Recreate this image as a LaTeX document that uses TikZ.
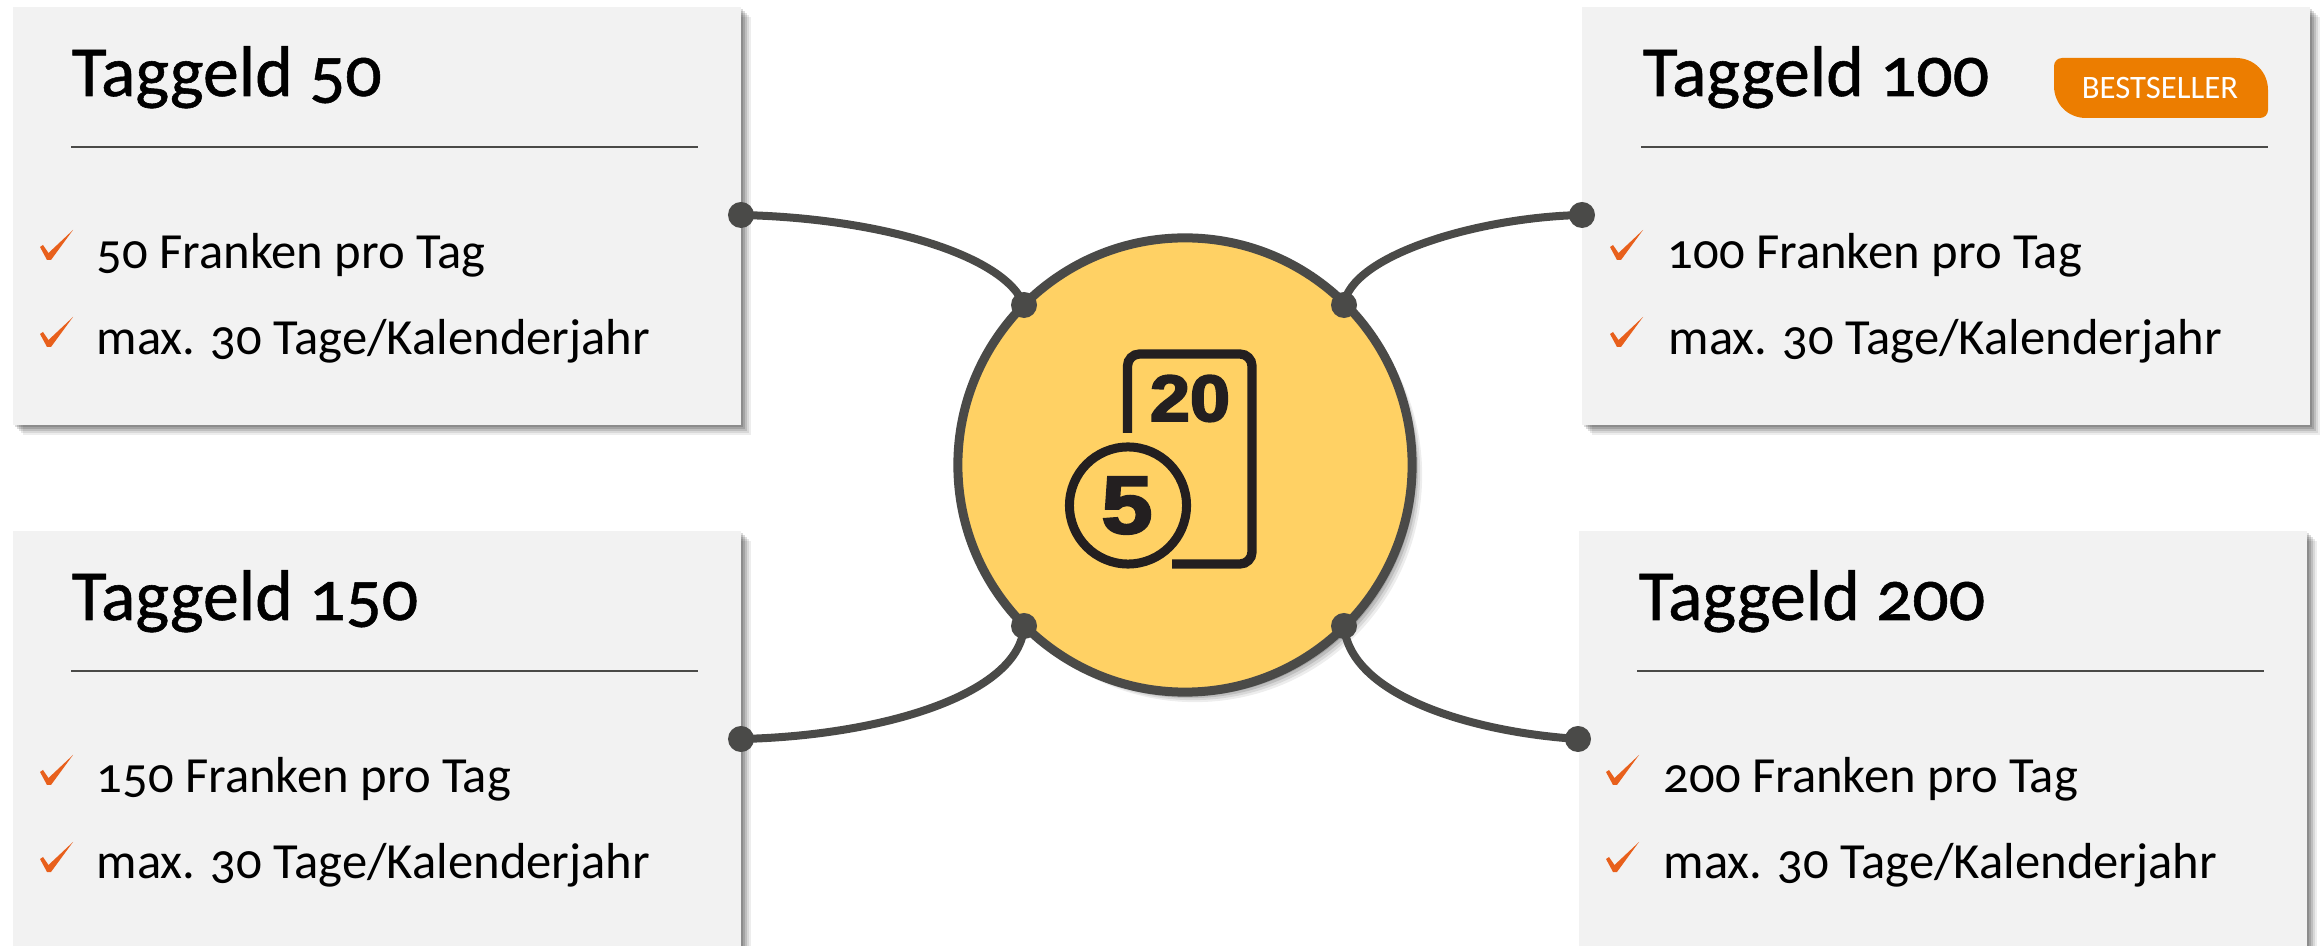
\documentclass[tikz,border=0pt]{standalone}
\usepackage{fontspec}
\setmainfont[Numbers=OldStyle]{Carlito}
\newfontfamily\titelfont[Numbers=OldStyle,FakeBold=0.8]{Carlito}
\newfontfamily\iconfont[FakeBold=3]{Liberation Sans Bold}
\usetikzlibrary{shadows}
\definecolor{boxgrau}{HTML}{F2F2F2}
\definecolor{liniengrau}{HTML}{4A4A48}
\definecolor{kreisgelb}{HTML}{FFD164}
\definecolor{iconschwarz}{HTML}{231F20}
\definecolor{hakenrot}{HTML}{E8601C}
\definecolor{badgeorange}{HTML}{EC7D00}
\tikzset{
    softshadow/.style={
        drop shadow={shadow xshift=0.10cm,shadow yshift=-0.10cm,opacity=.07,fill=black},
        drop shadow={shadow xshift=0.08cm,shadow yshift=-0.08cm,opacity=.09,fill=black},
        drop shadow={shadow xshift=0.06cm,shadow yshift=-0.06cm,opacity=.12,fill=black},
        drop shadow={shadow xshift=0.04cm,shadow yshift=-0.04cm,opacity=.14,fill=black},
        drop shadow={shadow xshift=0.02cm,shadow yshift=-0.02cm,opacity=.14,fill=black}},
    tagbox/.style={softshadow,fill=boxgrau,anchor=north west,inner sep=0pt,minimum width=7.28cm},
    titel/.style={anchor=base west,inner sep=0pt,font=\titelfont\fontsize{20.4}{22}\selectfont},
    zeile/.style={anchor=base west,inner sep=0pt,font=\fontsize{14.4}{17}\selectfont},
    punkt/.style={circle,fill=liniengrau,inner sep=0pt,minimum size=0.26cm},
    verbinder/.style={liniengrau,line width=0.08cm},
    trenner/.style={liniengrau,line width=0.015cm},
}
\newcommand{\haken}[2]{\fill[hakenrot,shift={(#1,#2)}] (0,17)--(3,15)--(8.5,23)--(33,0)--(11,30)--(7,30)--cycle;}
\begin{document}
\begin{tikzpicture}[x=0.01cm,y=-0.01cm]
    \useasboundingbox (0,0) rectangle (2323,946);
    \clip (0,0) rectangle (2323,946);
    % boxes
    \node[tagbox,minimum height=4.18cm] (box50) at (12,6) {};
    \node[tagbox,minimum height=4.18cm] (box100) at (1581,6) {};
    \node[tagbox,minimum height=4.4cm] (box150) at (12,530) {};
    \node[tagbox,minimum height=4.4cm] (box200) at (1578,530) {};
    % titles
    \node[titel] (titel50) at (71,96) {Taggeld 50};
    \node[titel] (titel100) at (1642,96) {Taggeld 100};
    \node[titel] (titel150) at (71,620) {Taggeld 150};
    \node[titel] (titel200) at (1638,620) {Taggeld 200};
    \draw[trenner] (71,147)--(698,147);
    \draw[trenner] (1641,147)--(2268,147);
    \draw[trenner] (71,671)--(698,671);
    \draw[trenner] (1637,671)--(2264,671);
    % lines
    \node[zeile] (a50) at (96,269) {50 Franken pro Tag};
    \node[zeile] (b50) at (96,355) {max. 30 Tage/Kalenderjahr};
    \node[zeile] (a100) at (1667,269) {100 Franken pro Tag};
    \node[zeile] (b100) at (1668,355) {max. 30 Tage/Kalenderjahr};
    \node[zeile] (a150) at (96,793) {150 Franken pro Tag};
    \node[zeile] (b150) at (96,879) {max. 30 Tage/Kalenderjahr};
    \node[zeile] (a200) at (1663,793) {200 Franken pro Tag};
    \node[zeile] (b200) at (1663,879) {max. 30 Tage/Kalenderjahr};
    \haken{40}{230} \haken{40}{317}
    \haken{1610}{230} \haken{1610}{317}
    \haken{40}{755} \haken{40}{842}
    \haken{1606}{755} \haken{1606}{842}
    % badge
    \fill[badgeorange] (2062,58)--(2236,58) .. controls (2254,58) and (2268,72) .. (2268,90)--(2268,110) .. controls (2268,114.4) and (2264.4,118) .. (2260,118)--(2086,118) .. controls (2068,118) and (2054,104) .. (2054,86)--(2054,66) .. controls (2054,61.6) and (2057.6,58) .. (2062,58)--cycle;
    \node[text=white,inner sep=0pt,font=\fontsize{9.3}{11}\selectfont] (badge) at (2160,88) {BESTSELLER};
    % centre
    \node[circle,softshadow,fill=kreisgelb,draw=liniengrau,line width=0.09cm,minimum size=4.54cm,inner sep=0pt] (kreis) at (1185,465) {};
    \draw[iconschwarz,line width=0.093cm,rounded corners=0.12cm] (1127.5,433)--(1127.5,354)--(1252,354)--(1252,564)--(1172,564);
    \draw[iconschwarz,line width=0.09cm] (1128,505.5) circle[radius=0.585cm];
    \node[text=iconschwarz,inner sep=0pt,font=\iconfont\fontsize{18.6}{20}\selectfont] (zwanzig) at (1190,398.5) {\scalebox{1.1}[1]{20}};
    \node[text=iconschwarz,inner sep=0pt,font=\iconfont\fontsize{23.2}{26}\selectfont] (fuenf) at (1127,505.5) {\scalebox{1.12}[1]{5}};
    % dots and connectors
    \node[punkt] (p50) at (741,215) {};
    \node[punkt] (p100) at (1582,215) {};
    \node[punkt] (p150) at (741,739) {};
    \node[punkt] (p200) at (1578,739) {};
    \node[punkt] (k50) at (1024,305) {};
    \node[punkt] (k100) at (1344,305) {};
    \node[punkt] (k150) at (1024,626) {};
    \node[punkt] (k200) at (1344,626) {};
    \draw[verbinder] (p50.center) .. controls (880,218) and (1005,255) .. (k50.center);
    \draw[verbinder] (p100.center) .. controls (1480,217) and (1350,255) .. (k100.center);
    \draw[verbinder] (p150.center) .. controls (880,736) and (1020,695) .. (k150.center);
    \draw[verbinder] (p200.center) .. controls (1470,732) and (1350,695) .. (k200.center);
\end{tikzpicture}
\end{document}
